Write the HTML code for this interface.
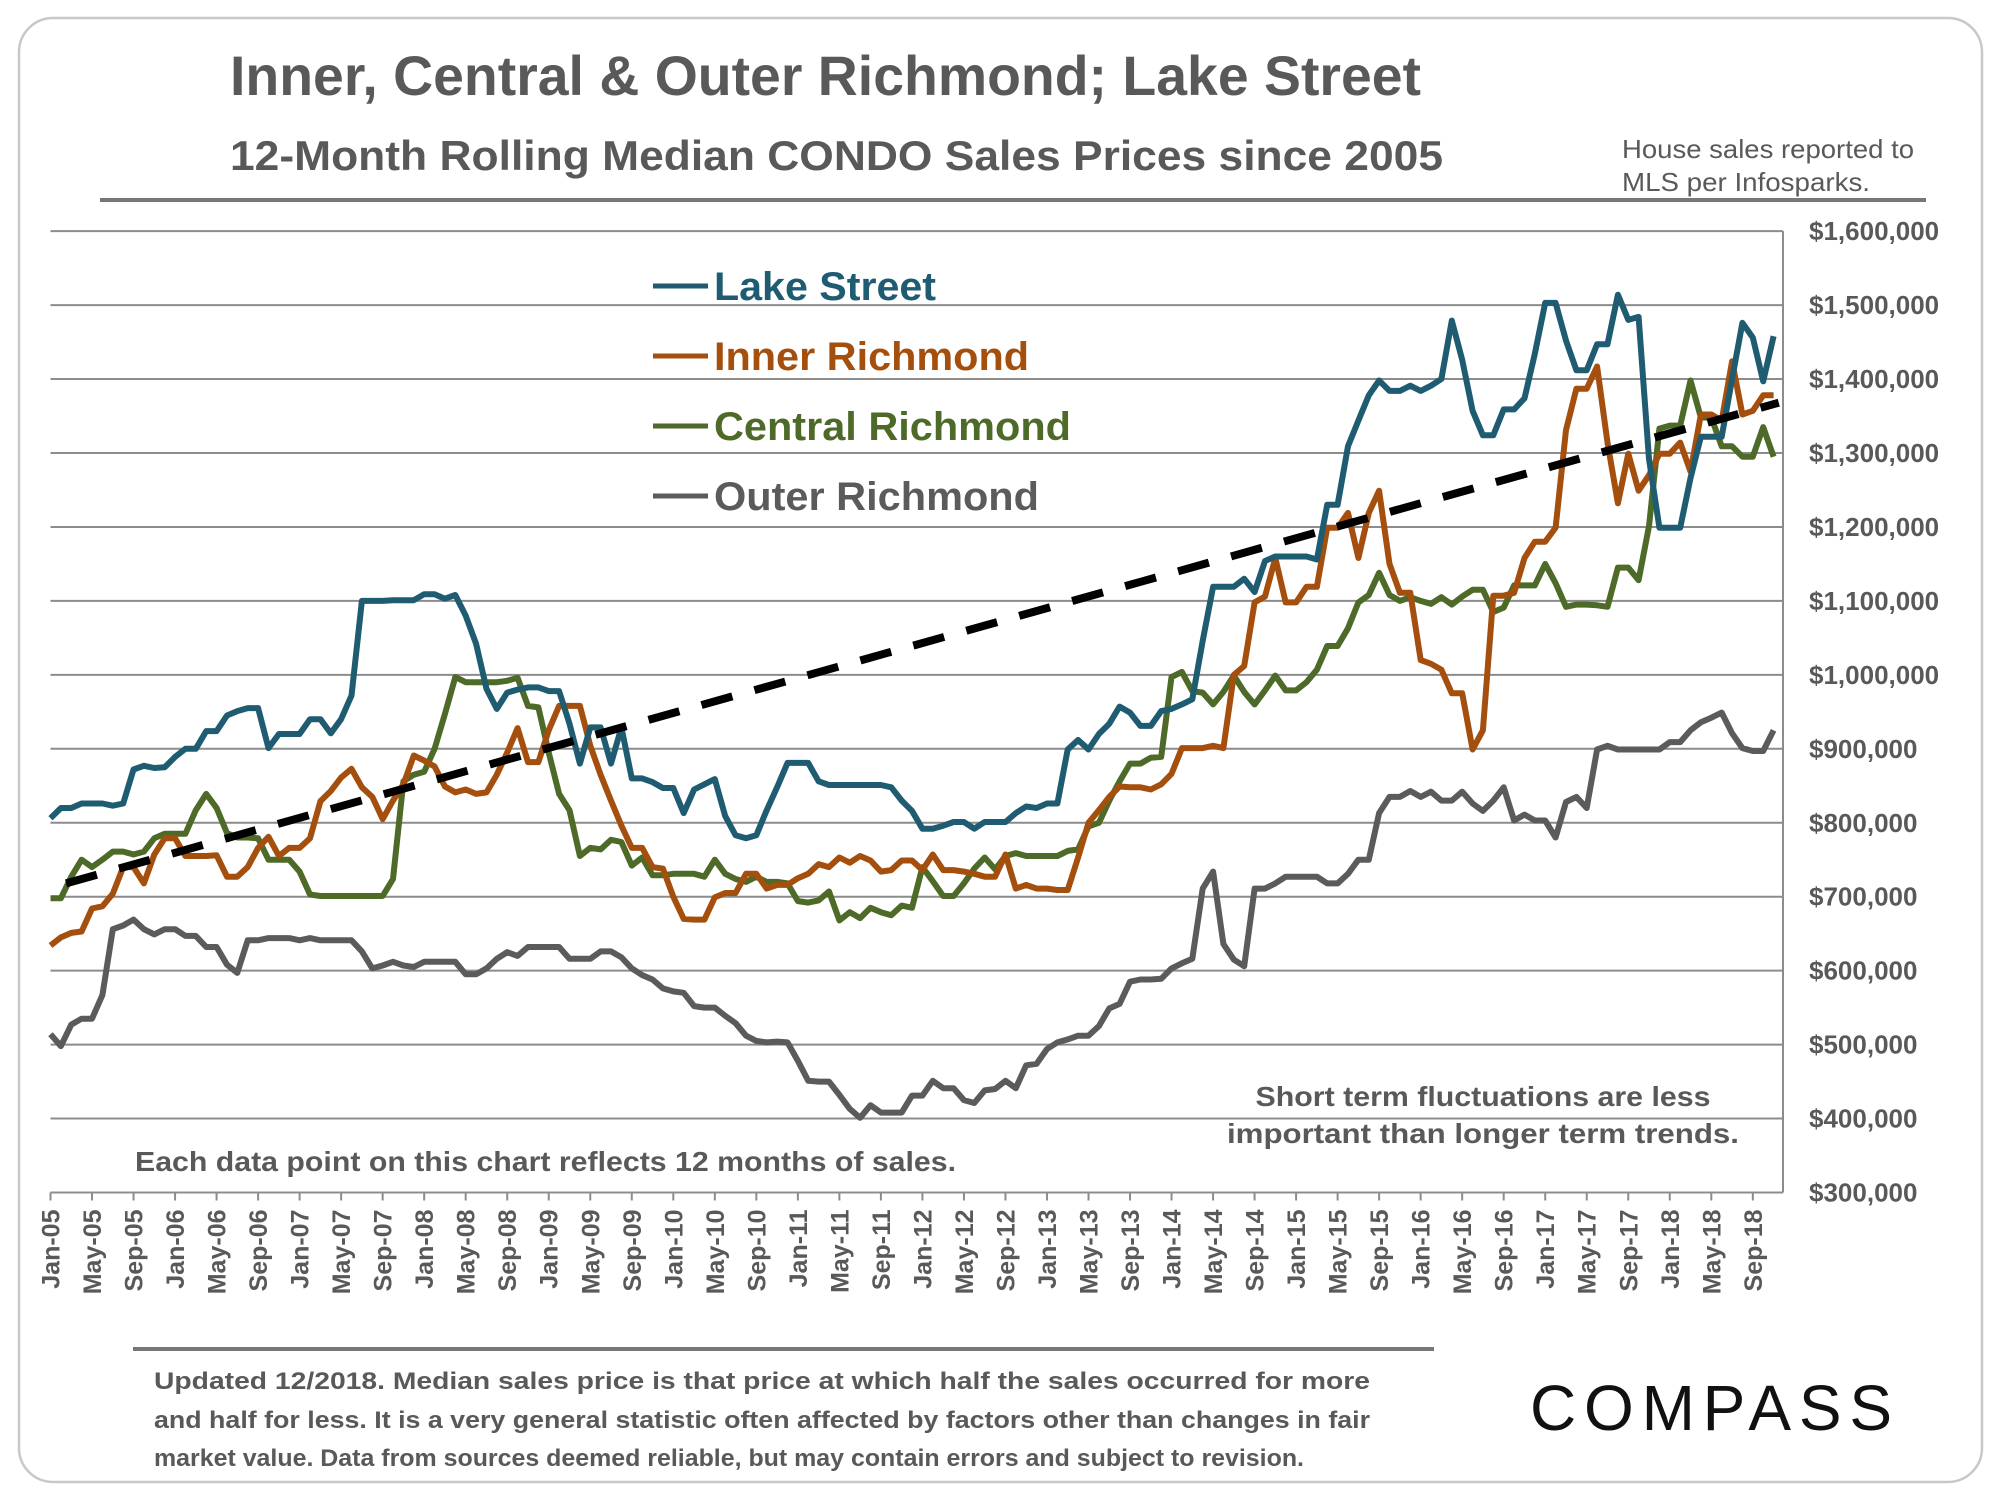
<!DOCTYPE html>
<html><head><meta charset="utf-8"><style>
html,body{margin:0;padding:0;background:#fff;}
svg{display:block;}
text{font-family:"Liberation Sans",sans-serif;}
</style></head><body>
<svg id="chart" width="2000" height="1500" viewBox="0 0 2000 1500" xmlns="http://www.w3.org/2000/svg">
<rect x="19" y="18" width="1963" height="1464" rx="34" fill="#fff" stroke="#c8c8c8" stroke-width="2.5"/>
<text x="230" y="95" font-size="56" font-weight="bold" fill="#595959" textLength="1191" lengthAdjust="spacingAndGlyphs">Inner, Central &amp; Outer Richmond; Lake Street</text>
<text x="230" y="170" font-size="42" font-weight="bold" fill="#595959" textLength="1213" lengthAdjust="spacingAndGlyphs">12-Month Rolling Median CONDO Sales Prices since 2005</text>
<text x="1622" y="158" font-size="26" fill="#595959" textLength="292" lengthAdjust="spacingAndGlyphs">House sales reported to</text>
<text x="1622" y="191" font-size="26" fill="#595959" textLength="248" lengthAdjust="spacingAndGlyphs">MLS per Infosparks.</text>
<line x1="100" y1="200" x2="1926" y2="200" stroke="#777" stroke-width="4"/>
<g id="grid"></g>
<g id="yaxis"></g>
<g id="xaxis"></g>
<g id="series"></g>
<g id="legend"></g>
<text x="135" y="1171" font-size="28" font-weight="bold" fill="#595959" textLength="821" lengthAdjust="spacingAndGlyphs">Each data point on this chart reflects 12 months of sales.</text>
<text x="1483" y="1106" font-size="28" font-weight="bold" fill="#595959" text-anchor="middle" textLength="455" lengthAdjust="spacingAndGlyphs">Short term fluctuations are less</text>
<text x="1483" y="1143" font-size="28" font-weight="bold" fill="#595959" text-anchor="middle" textLength="512" lengthAdjust="spacingAndGlyphs">important than longer term trends.</text>
<line x1="133" y1="1349" x2="1434" y2="1349" stroke="#777" stroke-width="4"/>
<text x="154" y="1389" font-size="24" font-weight="bold" fill="#595959" textLength="1216" lengthAdjust="spacingAndGlyphs">Updated 12/2018. Median sales price is that price at which half the sales occurred for more</text>
<text x="154" y="1428" font-size="24" font-weight="bold" fill="#595959" textLength="1216" lengthAdjust="spacingAndGlyphs">and half for less. It is a very general statistic often affected by factors other than changes in fair</text>
<text x="154" y="1466" font-size="24" font-weight="bold" fill="#595959" textLength="1150" lengthAdjust="spacingAndGlyphs">market value. Data from sources deemed reliable, but may contain errors and subject to revision.</text>
<text x="1530" y="1430" font-size="64" fill="#111" textLength="362" lengthAdjust="spacing" style="font-weight:300">COMPASS</text>
</svg>
<script>
const months=["Jan","May","Sep"];
const yTicks=[300,400,500,600,700,800,900,1000,1100,1200,1300,1400,1500,1600];
const lakeStreet=[806,820,820,826,826,826,823,826,872,877,874,875,889,900,900,924,924,945,951,955,955,901,920,920,920,940,940,921,940,972,1100,1100,1100,1101,1101,1101,1109,1109,1103,1108,1080,1042,981,954,976,980,983,983,978,978,934,880,929,929,880,929,860,
860,855,847,847,813,845,852,859,809,783,779,783,817,848,881,881,881,856,851,851,851,851,851,851,848,830,816,792,792,796,801,801,792,801,801,801,813,822,820,826,826,899,912,899,920,934,957,949,931,931,951,954,960,967,1046,1119,
1119,1119,1130,1112,1154,1160,1160,1160,1160,1156,1230,1230,1309,1344,1378,1398,1384,1384,1391,1384,1391,1400,1479,1426,1357,1324,1324,1359,1359,1374,1434,1503,1503,1452,1412,1412,1447,1447,1514,1480,1484,1292,1199,1199,1199,1266,1322,1322,1322,1400,1476,1456,1397,1458];
const innerRichmond=[634,645,651,653,684,687,704,740,740,718,757,779,779,755,755,755,756,727,727,740,766,781,755,766,766,779,829,843,861,873,848,835,805,830,852,891,884,876,849,841,845,839,841,865,895,928,882,882,925,958,958,958,904,865,830,796,766,
766,740,738,700,670,669,669,699,705,705,731,731,711,716,716,725,731,744,740,753,746,755,749,734,736,749,749,736,757,736,736,734,731,727,727,757,711,716,711,711,709,709,753,800,817,835,849,848,848,845,852,866,901,901,901,904,
901,1000,1012,1098,1106,1158,1098,1098,1119,1119,1199,1199,1219,1158,1219,1249,1150,1111,1111,1020,1015,1007,975,975,899,925,1107,1107,1111,1158,1180,1180,1199,1331,1387,1387,1417,1314,1232,1299,1249,1270,1299,1299,1314,1275,1352,1352,1344,1424,1352,1357,1378,1378];
const centralRichmond=[698,698,727,750,740,750,761,761,757,761,779,785,785,785,817,839,820,786,780,780,779,750,750,750,734,703,701,701,701,701,701,701,701,724,856,865,869,900,947,997,990,990,990,990,992,996,958,956,895,839,817,755,766,764,777,774,742,
753,729,729,731,731,731,727,750,731,724,720,727,720,720,718,694,692,695,707,668,679,671,685,679,675,688,685,740,721,701,701,718,738,753,737,755,759,755,755,755,755,762,764,795,800,830,856,880,880,888,889,997,1004,978,976,960,
977,999,977,960,979,999,979,979,990,1007,1039,1039,1063,1098,1108,1138,1108,1100,1105,1100,1096,1105,1095,1106,1115,1115,1085,1091,1121,1121,1121,1150,1124,1092,1095,1095,1094,1092,1145,1145,1128,1201,1333,1337,1337,1398,1348,1348,1309,1309,1295,1295,1335,1295];
const outerRichmond=[514,498,527,535,535,567,656,661,669,656,649,656,656,647,647,632,632,608,597,641,641,644,644,644,641,644,641,641,641,641,626,603,607,612,607,605,612,612,612,612,595,595,603,616,625,620,632,632,632,632,616,616,616,626,626,618,603,
594,588,576,572,570,552,550,550,539,529,512,505,503,504,503,478,451,450,450,432,413,401,418,408,408,408,431,431,451,441,441,425,421,438,440,451,441,472,474,494,503,507,512,512,525,549,555,585,588,588,589,603,610,616,711,734,
636,615,606,711,711,718,727,727,727,727,718,718,731,750,750,813,835,835,843,835,842,830,830,842,826,816,830,848,803,811,803,803,780,828,835,820,899,904,899,899,899,899,899,909,909,925,936,942,949,921,901,897,897,925];
const trendIdx=[1.5,166.5];
const trendVal=[718,1368];

const NS="http://www.w3.org/2000/svg";
const X0=50.5, DX=10.38, XR=1783, Y0=1192.5, YK=0.7395;
function xs(i){return X0+i*DX;}
function ys(v){return Y0-(v-300)*YK;}
function mk(tag,attrs,parent){const e=document.createElementNS(NS,tag);for(const k in attrs)e.setAttribute(k,attrs[k]);parent.appendChild(e);return e;}
const grid=document.getElementById('grid'),yax=document.getElementById('yaxis'),xax=document.getElementById('xaxis'),ser=document.getElementById('series'),leg=document.getElementById('legend');
yTicks.forEach(v=>{
  const l=mk('line',{x1:X0,x2:XR,y1:ys(v),y2:ys(v),stroke:'#8c8c8c','stroke-width':2},grid);
  
  
  const t=mk('text',{x:1809,y:ys(v)+9,'font-size':26,'font-weight':'bold',fill:'#595959'},yax);
  t.textContent='$'+(v*1000).toLocaleString('en-US');
  
  
});
const ax=mk('line',{x1:XR,x2:XR,y1:ys(1600),y2:ys(300),stroke:'#8c8c8c','stroke-width':2},yax);


const n=lakeStreet.length;
for(let i=0;i<n;i+=4){
  const x=xs(i);
  const tk=mk('line',{x1:x,x2:x,y1:Y0,y2:Y0+8,stroke:'#8c8c8c','stroke-width':2},xax);
  
  
  const yr=5+Math.floor(i/12);
  const lbl=months[(i%12)/4]+'-'+String(yr).padStart(2,'0');
  const t=mk('text',{x:0,y:0,'font-size':25,'font-weight':'bold',fill:'#595959','text-anchor':'end',transform:`translate(${x+9},${Y0+17}) rotate(-90)`},xax);
  t.textContent=lbl;
  
  
}
const series=[[lakeStreet,'#1f5c72','Lake Street','lake-street',222],[innerRichmond,'#a44f0e','Inner Richmond','inner-richmond',315],[centralRichmond,'#4e6a28','Central Richmond','central-richmond',357],[outerRichmond,'#5b5b5b','Outer Richmond','outer-richmond',325]];
series.slice().reverse().forEach(s=>{
  const pts=s[0].map((v,i)=>xs(i).toFixed(1)+','+ys(v).toFixed(1)).join(' ');
  const p=mk('polyline',{points:pts,fill:'none',stroke:s[1],'stroke-width':6,'stroke-linejoin':'round'},ser);
  
  
});
const tr=mk('line',{x1:xs(trendIdx[0]),y1:ys(trendVal[0]),x2:xs(trendIdx[1]),y2:ys(trendVal[1]),stroke:'#000','stroke-width':8,'stroke-dasharray':'32 23'},ser);


series.forEach((s,k)=>{
  const y=286+k*70;
  const l=mk('line',{x1:653,x2:708,y1:y,y2:y,stroke:s[1],'stroke-width':5},leg);
  
  
  const t=mk('text',{x:714,y:y+14,'font-size':40,'font-weight':'bold',fill:s[1],textLength:s[4],lengthAdjust:'spacingAndGlyphs'},leg);
  t.textContent=s[2];
  
  
});
</script>
</body></html>
